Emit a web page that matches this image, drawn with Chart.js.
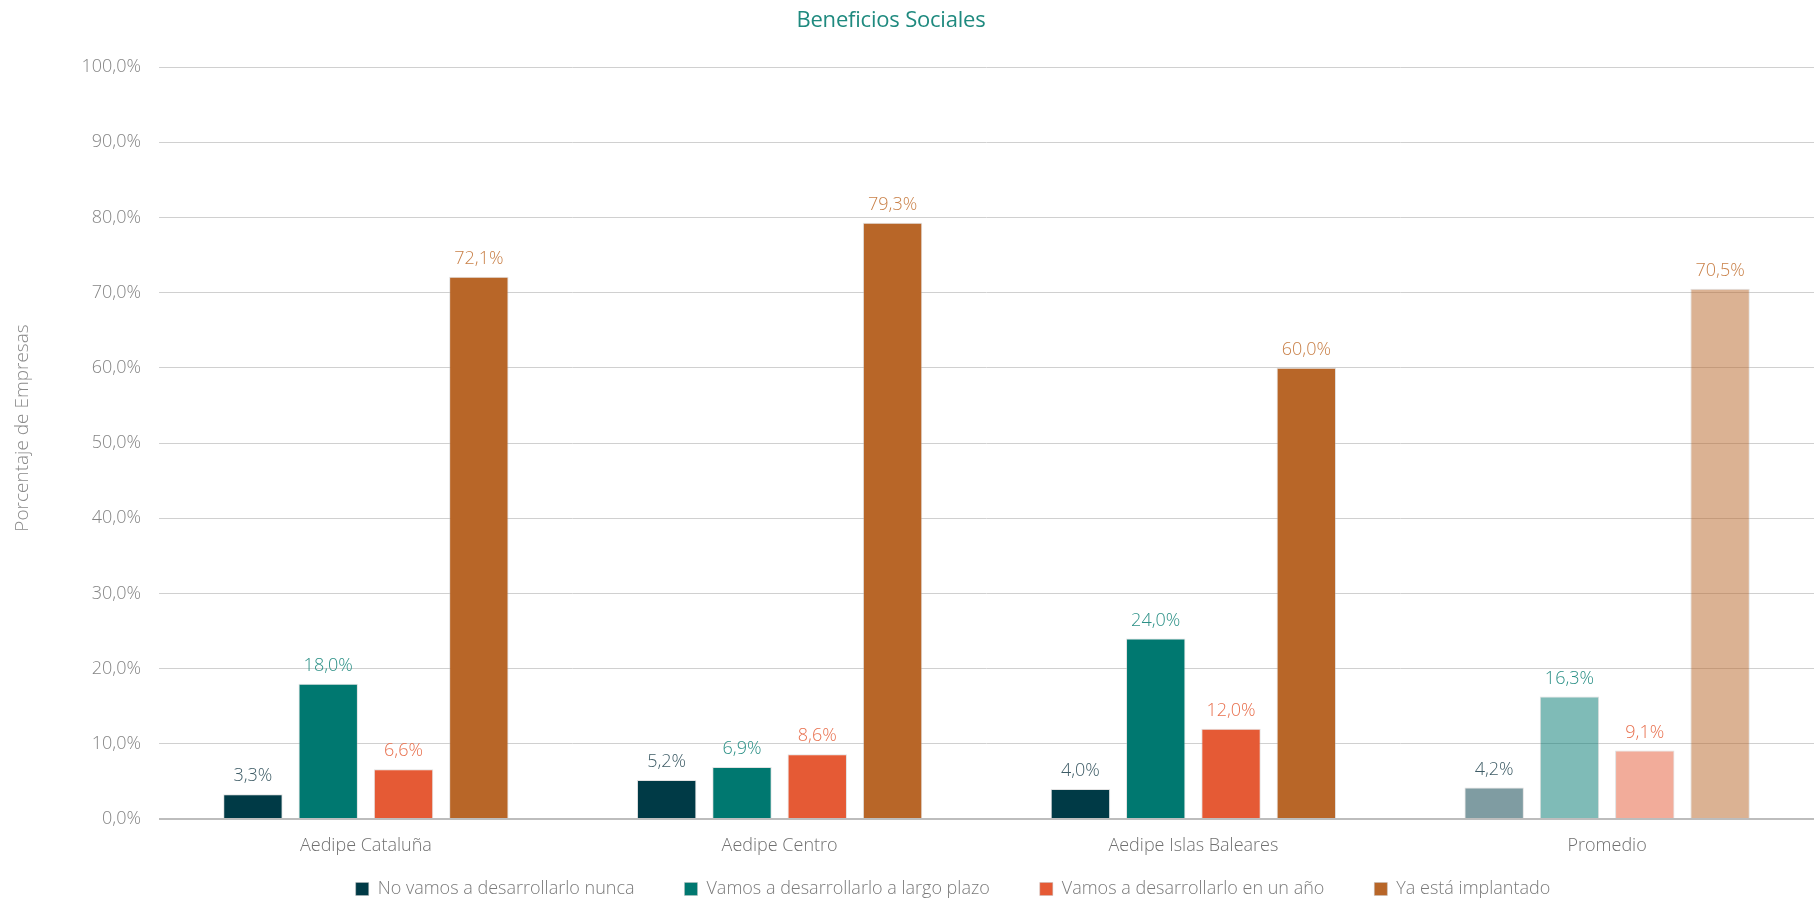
<!DOCTYPE html>
<html lang="es">
<head>
<meta charset="utf-8">
<title>Beneficios Sociales</title>
<script src="https://cdn.jsdelivr.net/npm/chart.js@4/dist/chart.umd.min.js"></script>
<style>
  html, body { margin: 0; padding: 0; background: #ffffff; }
  #wrap { position: relative; width: 1814px; height: 900px; }
  #title {
    position: absolute; top: 3px; left: 891px; transform: translateX(-50%);
    font-family: "Open Sans", sans-serif; font-size: 22px; font-weight: 400; color: #1f8a7f;
    white-space: nowrap; letter-spacing: -0.2px;
  }
  canvas { display: block; }
</style>
</head>
<body>
<div id="wrap">
  <div id="title">Beneficios Sociales</div>
  <canvas id="chart" width="1814" height="900"></canvas>
</div>
<script>
// Categories (regional groups and the overall average)
const categories = ['Aedipe Cataluña', 'Aedipe Centro', 'Aedipe Islas Baleares', 'Promedio'];

// Series names
const seriesNames = [
  'No vamos a desarrollarlo nunca',
  'Vamos a desarrollarlo a largo plazo',
  'Vamos a desarrollarlo en un año',
  'Ya está implantado'
];

// Percentage of companies per series, one value per category
const nuncaValues  = [3.3, 5.2, 4.0, 4.2];
const largoPlazo   = [18.0, 6.9, 24.0, 16.3];
const enUnAnio     = [6.6, 8.6, 12.0, 9.1];
const yaImplantado = [72.1, 79.3, 60.0, 70.5];

// Y axis ticks
const yTicks = [0, 10, 20, 30, 40, 50, 60, 70, 80, 90, 100];
const yAxisTitle = 'Porcentaje de Empresas';

const fontFamily = '"Open Sans", sans-serif';
const lightFont = '300 18px ' + fontFamily;
const solidColors = ['#003a46', '#007870', '#e55a35', '#b86628'];
const fadedColors = ['rgba(0,58,70,0.5)', 'rgba(0,120,112,0.5)', 'rgba(229,90,53,0.5)', 'rgba(184,102,40,0.5)'];
const labelColors = ['#3e5c66', '#2b9086', '#e8704e', '#c98048'];

const fmt = v => v.toFixed(1).replace('.', ',') + '%';

const seriesValues = [nuncaValues, largoPlazo, enUnAnio, yaImplantado];

const datasets = seriesValues.map((vals, s) => ({
  label: seriesNames[s],
  data: vals,
  // the average group is drawn with lighter, translucent bars
  backgroundColor: ctx => (ctx.type === 'data' && ctx.dataIndex === categories.length - 1) ? fadedColors[s] : solidColors[s],
  borderColor: 'rgba(190,190,190,0.45)',
  borderWidth: 1,
  borderSkipped: 'bottom',
  categoryPercentage: 0.728,
  barPercentage: 0.789
}));

// Nudges the legend row to the right of the canvas centre
const legendOffset = {
  id: 'legendOffset',
  afterLayout(chart) {
    if (chart.legend) {
      chart.legend.left += 46;
      chart.legend.right += 46;
    }
  }
};

// Value labels above bars, category names under the axis and the rotated axis title
const annotations = {
  id: 'annotations',
  afterDatasetsDraw(chart) {
    const ctx = chart.ctx;
    ctx.save();
    ctx.font = lightFont;
    ctx.textAlign = 'center';
    ctx.textBaseline = 'middle';
    chart.data.datasets.forEach((ds, s) => {
      const meta = chart.getDatasetMeta(s);
      meta.data.forEach((bar, i) => {
        ctx.fillStyle = labelColors[s];
        ctx.fillText(fmt(ds.data[i]), bar.x, bar.y - 18);
      });
    });

    const xScale = chart.scales.x;
    ctx.fillStyle = '#707070';
    categories.forEach((c, i) => {
      ctx.fillText(c, xScale.getPixelForTick(i), chart.chartArea.bottom + 27);
    });

    ctx.font = '300 19px ' + fontFamily;
    ctx.translate(23, 428);
    ctx.rotate(-Math.PI / 2);
    ctx.fillStyle = '#8a8a8a';
    ctx.fillText(yAxisTitle, 0, 0);
    ctx.restore();
  }
};

new Chart(document.getElementById('chart'), {
  type: 'bar',
  data: { labels: categories, datasets },
  options: {
    responsive: false,
    animation: false,
    layout: { padding: { top: 67, right: 0, bottom: -8, left: 0 } },
    plugins: {
      title: { display: false },
      tooltip: { enabled: false },
      legend: {
        position: 'bottom',
        labels: {
          boxWidth: 13,
          boxHeight: 13,
          padding: 50,
          color: '#7a7a7a',
          font: { family: fontFamily, size: 18, weight: '300' }
        }
      }
    },
    scales: {
      x: {
        grid: { display: false },
        border: { display: false },
        ticks: { display: false },
        afterFit(scale) { scale.height = 11; }
      },
      y: {
        min: 0,
        max: 100,
        afterBuildTicks(scale) { scale.ticks = yTicks.map(v => ({ value: v })); },
        grid: {
          color: ctx => ctx.tick && ctx.tick.value === 0 ? '#bdbdbd' : '#d0d0d0',
          lineWidth: ctx => ctx.tick && ctx.tick.value === 0 ? 2 : 1,
          drawTicks: false
        },
        border: { display: false },
        ticks: {
          color: '#858585',
          padding: 18,
          font: { family: fontFamily, size: 18, weight: '300' },
          callback: v => fmt(v)
        },
        afterFit(scale) { scale.width = 159; }
      }
    }
  },
  plugins: [legendOffset, annotations]
});
</script>
</body>
</html>
